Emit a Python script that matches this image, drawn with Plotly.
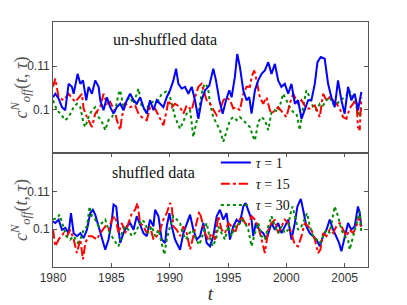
import plotly.graph_objects as go
from plotly.subplots import make_subplots

# ---------------- data ----------------
# Top panel: un-shuffled data
t_top_1 = [1980.00,1980.20,1980.48,1980.77,1981.05,1981.34,1981.62,1981.77,1982.11,1982.34,1982.57,1982.85,
           1983.05,1983.34,1983.62,1983.91,1984.05,1984.33,1984.62,1984.90,1985.19,1985.47,1985.76,1986.04,
           1986.33,1986.61,1986.90,1987.18,1987.47,1987.75,1988.04,1988.32,1988.61,1988.89,1989.18,1989.46,
           1989.75,1990.03,1990.32,1990.55,1990.75,1991.03,1991.32,1991.60,1991.89,1992.17,1992.46,1992.74,
           1993.03,1993.40,1993.74,1993.97,1994.26,1994.54,1994.83,1995.11,1995.31,1995.59,1995.79,1996.02,
           1996.31,1996.59,1996.82,1997.02,1997.31,1997.59,1997.88,1998.16,1998.45,1998.73,1999.02,1999.30,
           1999.58,1999.87,2000.16,2000.44,2000.73,2001.01,2001.30,2001.58,2001.87,2002.15,2002.44,2002.67,
           2002.95,2003.29,2003.58,2003.86,2004.15,2004.43,2004.72,2005.00,2005.29,2005.57,2005.86,2006.14,2006.43]
c_top_1 = [0.1028,0.1036,0.1025,0.1005,0.0998,0.1059,0.1052,0.1036,0.1082,0.1059,0.1067,0.1021,
           0.1052,0.1036,0.1067,0.1052,0.1021,0.0998,0.1028,0.1005,0.0990,0.1005,0.1013,0.0998,
           0.1021,0.1036,0.1021,0.1013,0.1028,0.1005,0.0990,0.1021,0.0998,0.1021,0.1013,0.1005,
           0.1028,0.1044,0.1067,0.1094,0.1059,0.1048,0.1052,0.1036,0.1052,0.1021,0.0978,0.1021,
           0.1044,0.1055,0.1094,0.1067,0.1021,0.0990,0.1021,0.1044,0.1028,0.1075,0.1128,0.1098,
           0.1044,0.1021,0.1028,0.0990,0.1044,0.1067,0.1082,0.1090,0.1109,0.1082,0.1105,0.1067,
           0.1052,0.1059,0.1036,0.1059,0.1013,0.1021,0.0978,0.0998,0.1021,0.1021,0.1059,0.1109,
           0.1121,0.1117,0.1059,0.1028,0.1005,0.1067,0.1021,0.0990,0.1052,0.1021,0.1036,0.0998,0.1040]

t_top_15 = [1980.00,1980.20,1980.48,1980.91,1981.34,1981.91,1982.48,1982.62,1982.91,1983.19,1983.34,1983.62,
            1984.05,1984.33,1984.62,1984.90,1985.33,1985.47,1985.76,1985.90,1986.19,1986.61,1987.04,1987.33,
            1987.61,1988.04,1988.32,1988.75,1989.04,1989.18,1989.46,1989.75,1989.89,1990.18,1990.46,1990.89,
            1991.18,1991.46,1991.89,1992.17,1992.46,1992.74,1993.03,1993.17,1993.46,1993.74,1994.03,1994.31,
            1994.60,1994.88,1995.17,1995.45,1995.74,1996.02,1996.31,1996.59,1996.88,1997.02,1997.25,1997.45,
            1997.73,1998.02,1998.30,1998.59,1998.73,1999.30,1999.73,2000.01,2000.30,2000.58,2001.01,2001.30,
            2001.72,2002.01,2002.44,2002.87,2003.15,2003.44,2003.72,2004.01,2004.29,2004.58,2004.86,2005.15,
            2005.43,2005.72,2006.00,2006.14,2006.29,2006.43]
c_top_15 = [0.1052,0.1071,0.1028,0.1021,0.1036,0.1017,0.1036,0.1002,0.0982,0.0967,0.0959,0.0990,
            0.1005,0.1036,0.1013,0.1017,0.0994,0.0975,0.0952,0.0982,0.1013,0.1005,0.1009,0.0990,
            0.0982,0.0975,0.1005,0.1002,0.0986,0.0975,0.0963,0.0998,0.1021,0.1005,0.1013,0.1005,
            0.0990,0.1009,0.0998,0.1028,0.1052,0.1059,0.1036,0.1021,0.1013,0.0998,0.0986,0.0998,
            0.1021,0.1028,0.1021,0.1002,0.1005,0.0998,0.1036,0.1052,0.1052,0.1075,0.1090,0.1067,
            0.1028,0.1013,0.1028,0.0998,0.0990,0.1005,0.0990,0.0982,0.1013,0.1036,0.1013,0.1021,
            0.1002,0.1002,0.1009,0.0982,0.1036,0.1021,0.1028,0.1021,0.1013,0.1002,0.0982,0.0978,
            0.1002,0.1013,0.1021,0.0959,0.0952,0.1028]

t_top_30 = [1980.00,1980.20,1980.34,1980.63,1981.05,1981.34,1981.77,1982.05,1982.34,1982.62,1982.77,1983.05,
            1983.34,1983.62,1983.91,1984.19,1984.48,1984.76,1985.05,1985.33,1985.62,1985.76,1986.04,1986.33,
            1986.61,1986.90,1987.18,1987.33,1987.61,1987.90,1988.32,1988.75,1989.04,1989.32,1989.61,1989.89,
            1990.18,1990.46,1990.89,1991.18,1991.46,1991.75,1992.03,1992.17,1992.46,1992.74,1992.97,1993.28,
            1993.46,1993.74,1994.03,1994.31,1994.60,1994.88,1995.17,1995.45,1995.74,1996.02,1996.31,1996.59,
            1996.88,1997.16,1997.31,1997.59,1997.88,1998.16,1998.45,1998.73,1999.02,1999.30,1999.59,1999.73,
            2000.01,2000.30,2000.58,2000.87,2001.15,2001.44,2001.72,2002.01,2002.29,2002.58,2002.87,2003.15,
            2003.44,2003.72,2004.01,2004.29,2004.58,2004.86,2005.15,2005.38,2005.57,2005.86,2006.14,2006.29,2006.43]
c_top_30 = [0.1021,0.1005,0.0998,0.0990,0.0975,0.0982,0.1005,0.1013,0.1005,0.0967,0.0959,0.0982,
            0.0998,0.1005,0.0982,0.0971,0.0952,0.0975,0.0982,0.0998,0.1036,0.1044,0.1005,0.1021,
            0.1028,0.1013,0.1036,0.1048,0.1005,0.0998,0.1013,0.1021,0.1021,0.1036,0.1040,0.1044,
            0.1013,0.0982,0.0955,0.0975,0.0990,0.0998,0.0936,0.0955,0.0990,0.1036,0.1059,0.1052,
            0.1013,0.0982,0.0967,0.0952,0.0925,0.0952,0.0975,0.0982,0.0975,0.0982,0.0975,0.0967,
            0.0959,0.0936,0.0928,0.0971,0.0982,0.0975,0.0952,0.0994,0.0998,0.0994,0.1021,0.1036,
            0.1021,0.1005,0.0994,0.0990,0.0952,0.1005,0.1044,0.1028,0.1005,0.0998,0.1013,0.1009,
            0.1021,0.1028,0.1013,0.1009,0.1021,0.1025,0.1032,0.1044,0.1036,0.1013,0.0998,0.0982,0.1005]

# Bottom panel: shuffled data
t_bot_1 = [1980.00,1980.20,1980.48,1980.77,1981.05,1981.34,1981.54,1981.77,1982.05,1982.34,1982.62,1982.91,
           1983.19,1983.42,1983.62,1983.91,1984.19,1984.48,1984.76,1985.05,1985.19,1985.42,1985.62,1985.76,
           1986.04,1986.33,1986.61,1986.90,1987.18,1987.47,1987.75,1988.04,1988.32,1988.61,1988.75,1989.04,
           1989.32,1989.61,1989.75,1989.98,1990.18,1990.46,1990.75,1990.89,1991.18,1991.46,1991.75,1992.03,
           1992.32,1992.60,1992.89,1993.17,1993.46,1993.74,1994.03,1994.31,1994.60,1994.88,1995.17,1995.45,
           1995.74,1996.02,1996.31,1996.51,1996.74,1997.02,1997.16,1997.39,1997.68,1998.02,1998.30,1998.73,
           1999.02,1999.30,1999.59,1999.87,2000.16,2000.44,2000.73,2000.95,2001.24,2001.44,2001.72,2002.01,
           2002.29,2002.58,2002.87,2003.15,2003.44,2003.72,2004.01,2004.29,2004.52,2004.72,2005.00,2005.29,
           2005.57,2005.86,2006.14,2006.29,2006.43]
c_bot_1 = [0.1020,0.1016,0.1025,0.0998,0.1003,0.0989,0.1042,0.0989,0.0981,0.0989,0.0976,0.0998,
           0.1042,0.1051,0.1038,0.1007,0.0981,0.0945,0.0972,0.1025,0.1065,0.1060,0.0998,0.0963,
           0.0989,0.1007,0.1016,0.0998,0.1034,0.1012,0.0989,0.0981,0.1025,0.1007,0.1051,0.1034,
           0.0972,0.0963,0.1007,0.1042,0.1007,0.0972,0.0954,0.0945,0.0989,0.1016,0.1038,0.0998,
           0.0972,0.0981,0.1016,0.0963,0.0954,0.0981,0.1034,0.1051,0.1025,0.1042,0.0972,0.1007,
           0.1025,0.1016,0.1060,0.1069,0.1047,0.1025,0.0981,0.1016,0.0998,0.0989,0.0972,0.1016,
           0.0998,0.1016,0.0989,0.1007,0.1025,0.0972,0.1016,0.1060,0.1080,0.1051,0.1007,0.0989,
           0.0981,0.0972,0.0954,0.0981,0.0998,0.1025,0.0998,0.0981,0.0963,0.0941,0.0981,0.1016,
           0.0998,0.1007,0.1060,0.1042,0.1007]

t_bot_15 = [1980.00,1980.20,1980.48,1980.91,1981.20,1981.48,1981.77,1982.05,1982.34,1982.57,1982.77,1983.05,
            1983.34,1983.76,1984.05,1984.48,1984.76,1985.05,1985.33,1985.62,1985.90,1986.19,1986.47,1986.76,
            1987.04,1987.24,1987.47,1987.75,1988.04,1988.32,1988.61,1988.89,1989.18,1989.46,1989.75,1990.03,
            1990.18,1990.32,1990.61,1990.89,1991.18,1991.46,1991.75,1992.03,1992.32,1992.54,1992.74,1993.03,
            1993.31,1993.60,1993.88,1994.17,1994.45,1994.74,1995.02,1995.31,1995.59,1995.88,1996.16,1996.45,
            1996.74,1997.02,1997.31,1997.59,1997.88,1998.16,1998.45,1998.73,1999.02,1999.30,1999.59,1999.87,
            2000.16,2000.44,2000.73,2001.01,2001.30,2001.58,2001.87,2002.15,2002.44,2002.72,2002.92,2003.15,
            2003.44,2003.72,2004.01,2004.29,2004.58,2004.86,2005.15,2005.43,2005.72,2006.00,2006.23,2006.43]
c_bot_15 = [0.0998,0.0954,0.0972,0.0989,0.0981,0.0998,0.0972,0.0936,0.0972,0.0919,0.0963,0.0981,
            0.0981,0.0972,0.0989,0.1007,0.0998,0.1025,0.1034,0.0989,0.1016,0.0989,0.1016,0.1042,
            0.1051,0.1069,0.1016,0.1007,0.0989,0.1007,0.0972,0.0981,0.0998,0.1025,0.1042,0.1069,
            0.1060,0.1007,0.0998,0.0981,0.1007,0.0989,0.0945,0.0981,0.1016,0.1047,0.1025,0.0989,
            0.0972,0.0989,0.0972,0.1034,0.0998,0.0989,0.1016,0.1007,0.0989,0.1016,0.1034,0.1016,
            0.1007,0.1034,0.1025,0.1007,0.0972,0.0936,0.0998,0.1016,0.1025,0.0989,0.1007,0.1025,
            0.1016,0.0989,0.0958,0.0954,0.0981,0.1016,0.1007,0.0998,0.0972,0.0936,0.0945,0.0989,
            0.0981,0.0998,0.0989,0.1007,0.1016,0.0998,0.0981,0.0998,0.0989,0.1007,0.1034,0.0998]

t_bot_30 = [1980.00,1980.34,1980.57,1980.86,1981.14,1981.48,1981.77,1982.11,1982.34,1982.62,1982.91,1983.14,
            1983.34,1983.62,1983.91,1984.19,1984.48,1984.76,1985.19,1985.62,1985.90,1986.19,1986.47,1986.76,
            1987.04,1987.33,1987.61,1987.90,1988.18,1988.47,1988.75,1989.04,1989.32,1989.55,1989.75,1990.03,
            1990.32,1990.61,1990.89,1991.12,1991.40,1991.69,1991.97,1992.26,1992.54,1992.89,1993.17,1993.40,
            1993.68,1993.97,1994.17,1994.45,1994.74,1995.02,1995.31,1995.59,1995.88,1996.16,1996.45,1996.74,
            1997.02,1997.31,1997.59,1997.88,1998.16,1998.45,1998.73,1999.02,1999.30,1999.59,1999.87,2000.16,
            2000.30,2000.53,2000.73,2001.01,2001.30,2001.58,2001.78,2002.01,2002.29,2002.58,2002.87,2003.15,
            2003.44,2003.72,2003.95,2004.15,2004.43,2004.72,2005.00,2005.29,2005.43,2005.66,2005.86,2006.14,
            2006.29,2006.43]
c_bot_30 = [0.1025,0.1029,0.1038,0.1007,0.0981,0.0972,0.0981,0.0963,0.0972,0.0998,0.1007,0.1060,
            0.1034,0.1025,0.1007,0.1016,0.1025,0.0998,0.0972,0.0954,0.0989,0.1007,0.0998,0.0981,
            0.0989,0.1007,0.1025,0.1016,0.0989,0.1007,0.0981,0.0998,0.0963,0.0932,0.0972,0.1007,
            0.1034,0.1025,0.1016,0.0989,0.0972,0.0989,0.0998,0.0972,0.0958,0.0989,0.1016,0.0981,
            0.0954,0.0972,0.1007,0.0989,0.0972,0.1007,0.0981,0.1007,0.1007,0.1025,0.1016,0.0998,
            0.0954,0.0989,0.1016,0.0981,0.0972,0.1007,0.1034,0.1007,0.0989,0.1007,0.0989,0.0998,
            0.1034,0.1060,0.1034,0.0998,0.1007,0.1025,0.1042,0.1007,0.0981,0.0972,0.0963,0.0981,
            0.0998,0.0989,0.1025,0.1060,0.1034,0.0998,0.0981,0.0972,0.0945,0.0972,0.0998,0.1034,
            0.1047,0.0989]

x_ticks = [1980, 1985, 1990, 1995, 2000, 2005]
y_ticks = [0.1, 0.11]
y_ticktext = ["0.1", "0.11"]
legend_names = ["<i>τ</i> = 1", "<i>τ</i> = 15", "<i>τ</i> = 30"]
panel_labels = ["un-shuffled data", "shuffled data"]

# ---------------- figure ----------------
# the page body has an 8px margin, so the figure is sized to fill the rest of the window
W, H = 399, 297
ml, mr, mt, mb = 45, 39, 14, 38
ph = H - mt - mb
split = 114 / ph

fig = make_subplots(rows=2, cols=1, shared_xaxes=True, vertical_spacing=0)

colors = ["#0000ff", "#ff0000", "#008a00"]
dashes = ["solid", "dashdot", "dot"]
widths = [2, 2, 2]

top = [(t_top_1, c_top_1), (t_top_15, c_top_15), (t_top_30, c_top_30)]
bot = [(t_bot_1, c_bot_1), (t_bot_15, c_bot_15), (t_bot_30, c_bot_30)]

for i in [2, 1, 0]:
    fig.add_trace(go.Scatter(x=top[i][0], y=top[i][1], mode="lines",
                             line=dict(color=colors[i], dash=dashes[i], width=widths[i]),
                             showlegend=False), row=1, col=1)
for i in [0, 1, 2]:
    fig.add_trace(go.Scatter(x=bot[i][0], y=bot[i][1], mode="lines", name=legend_names[i],
                             line=dict(color=colors[i], dash=dashes[i], width=widths[i]),
                             showlegend=True), row=2, col=1)

axis_common = dict(showline=True, linecolor="#555", linewidth=1, mirror="allticks",
                   ticks="inside", ticklen=4, tickcolor="#555", showgrid=False, zeroline=False,
                   automargin=False,
                   tickfont=dict(family="Liberation Sans, Arial, sans-serif", size=12, color="#333"))

fig.update_xaxes(range=[1980, 2007], tickvals=x_ticks, **axis_common)
fig.update_xaxes(showticklabels=False, ticks="", row=1, col=1)
fig.update_xaxes(title=dict(text="<i>t</i>", font=dict(family="Liberation Serif, serif", size=19, color="#333"),
                            standoff=2), row=2, col=1)
ytitle = "<i>c</i><sup><i>N</i></sup><sub><i>off</i></sub>(<i>t</i>, <i>τ</i>)"
fig.update_yaxes(range=[0.0899, 0.1202], tickvals=y_ticks, ticktext=y_ticktext, **axis_common)
fig.update_yaxes(title=dict(text=ytitle, font=dict(family="Liberation Serif, serif", size=18, color="#555"),
                            standoff=4))

fig.update_layout(
    width=W, height=H,
    margin=dict(l=ml, r=mr, t=mt, b=mb, autoexpand=False),
    paper_bgcolor="white", plot_bgcolor="white",
    yaxis=dict(domain=[split, 1]),
    yaxis2=dict(domain=[0, split]),
    legend=dict(x=0.517, y=0.49, xanchor="left", yanchor="top",
                bgcolor="rgba(255,255,255,0)", borderwidth=0,
                font=dict(family="Liberation Serif, serif", size=14, color="#111"),
                itemwidth=30, tracegroupgap=0),
    annotations=[
        dict(text=panel_labels[0], x=0.356, y=0.93, xref="paper", yref="paper", showarrow=False,
             xanchor="center", yanchor="middle",
             font=dict(family="Liberation Serif, serif", size=16, color="#111")),
        dict(text=panel_labels[1], x=0.32, y=0.385, xref="paper", yref="paper", showarrow=False,
             xanchor="center", yanchor="middle",
             font=dict(family="Liberation Serif, serif", size=16, color="#111")),
    ],
)

fig.write_html("out.html")
